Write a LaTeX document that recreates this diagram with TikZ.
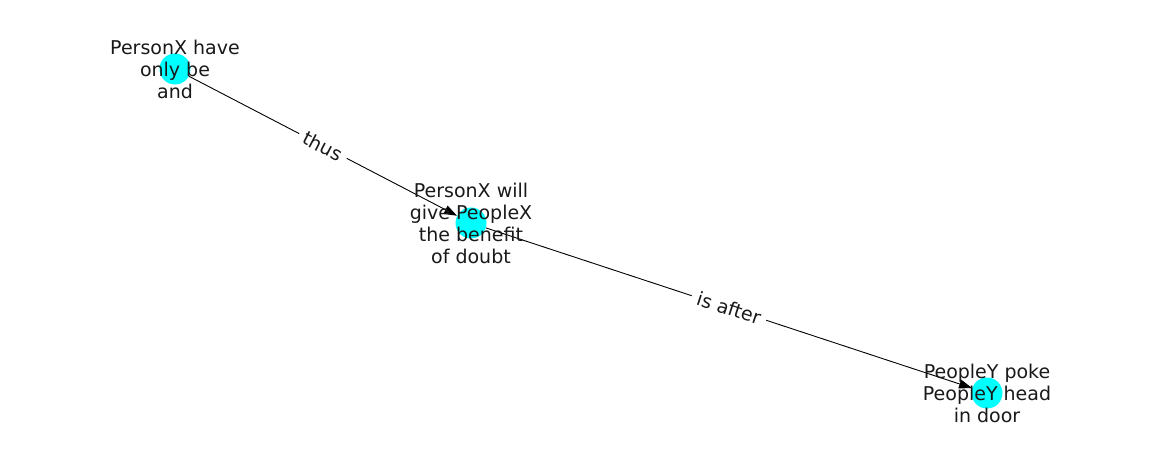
\documentclass[tikz,border=0pt]{standalone}
\usepackage{fontspec}
\setmainfont{DejaVu Sans}
\usetikzlibrary{arrows.meta}
\definecolor{nodecyan}{RGB}{0,255,255}

\begin{document}
\begin{tikzpicture}[x=1pt,y=-1pt,
  event/.style={circle,fill=nodecyan,minimum size=31pt,inner sep=0pt},
  eventtext/.style={align=center,text=black!90,inner sep=0pt,
    font=\fontsize{19}{22}\selectfont},
  rel/.style={-{Triangle[length=13pt,width=9pt]},line width=0.9pt},
  rellabel/.style={sloped,fill=white,inner xsep=6pt,inner ysep=4pt,text=black!90,
    font=\fontsize{19}{22}\selectfont}]
  \useasboundingbox (0,0) rectangle (1162,462);
  % events
  \node[event] (havebe) at (175,69) {};
  \node[event] (benefit) at (471,223) {};
  \node[event] (poke) at (987,393) {};
  % relations
  \draw[rel] (havebe) -- node[rellabel]{thus} (benefit);
  \draw[rel] (benefit) -- node[rellabel]{is after} (poke);
  % texts on top
  \node[eventtext] at (havebe) {PersonX have\\only be\\and};
  \node[eventtext] at (benefit) {PersonX will\\give PeopleX\\the benefit\\of doubt};
  \node[eventtext] at (poke) {PeopleY poke\\PeopleY head\\in door};
\end{tikzpicture}
\end{document}
